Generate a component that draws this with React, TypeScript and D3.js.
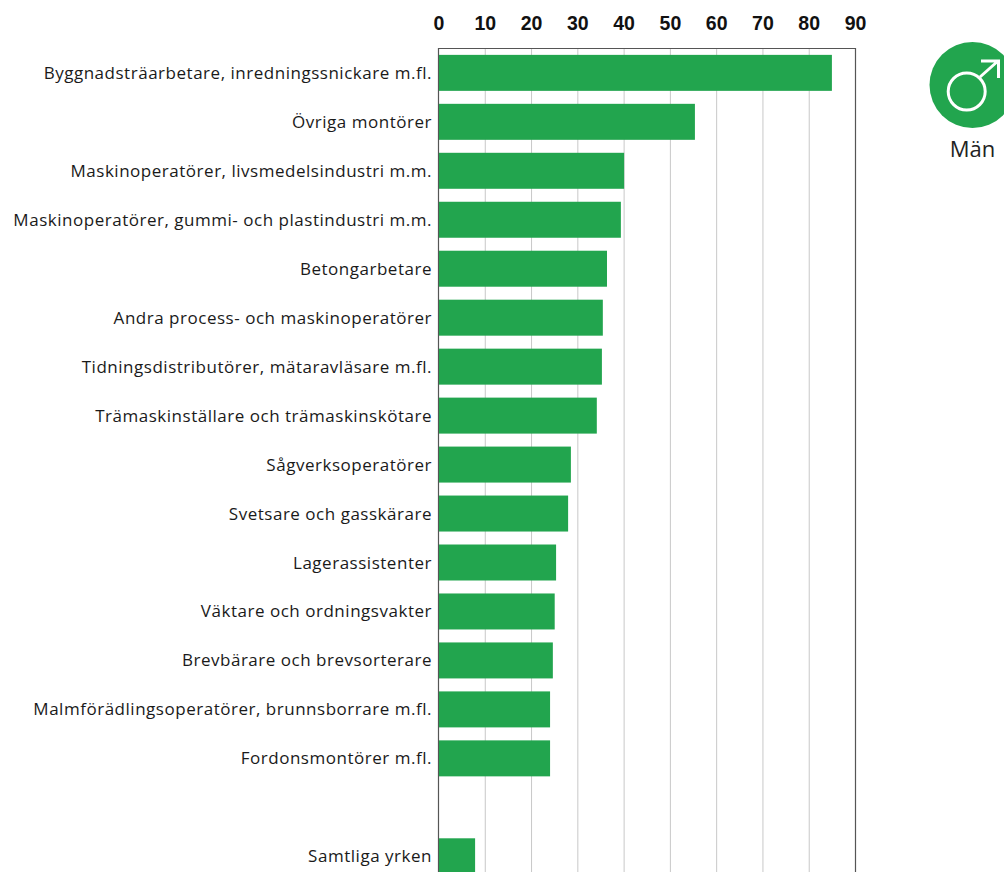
import React from "react";
import * as d3 from "d3";

const categories = [
  "Byggnadsträarbetare, inredningssnickare m.fl.",
  "Övriga montörer",
  "Maskinoperatörer, livsmedelsindustri m.m.",
  "Maskinoperatörer, gummi- och plastindustri m.m.",
  "Betongarbetare",
  "Andra process- och maskinoperatörer",
  "Tidningsdistributörer, mätaravläsare m.fl.",
  "Trämaskinställare och trämaskinskötare",
  "Sågverksoperatörer",
  "Svetsare och gasskärare",
  "Lagerassistenter",
  "Väktare och ordningsvakter",
  "Brevbärare och brevsorterare",
  "Malmförädlingsoperatörer, brunnsborrare m.fl.",
  "Fordonsmontörer m.fl.",
  "",
  "Samtliga yrken",
];
const values = [84.9, 55.3, 40, 39.3, 36.3, 35.4, 35.2, 34.1, 28.5, 27.9, 25.3, 25, 24.6, 24, 24, null, 7.8];
const ticks = [0, 10, 20, 30, 40, 50, 60, 70, 80, 90];
const GREEN = "#22a54e";
const FONT = "'Open Sans', sans-serif";

export default function App() {
  const x = d3.scaleLinear().domain([0, 90]).range([439, 855.5]);
  const y = d3.scaleBand<number>().domain(d3.range(categories.length)).range([48.5, 48.5 + 48.95 * 17]).paddingInner(0.265).paddingOuter(0.13);
  return (
    <svg width={1004} height={872} style={{ position: "absolute", left: 0, top: 0, display: "block", background: "#fff" }}>
      {ticks.slice(1, -1).map((t) => (
        <line key={t} x1={x(t)} x2={x(t)} y1={49} y2={872} stroke="#c8c8c8" strokeWidth={1} />
      ))}
      <path d={`M${x(0) - 0.5},880V48.5H${x(90)}V880`} fill="none" stroke="#555" strokeWidth={1.2} />
      {values.map((v, i) =>
        v == null ? null : (
          <rect key={i} x={x(0)} y={y(i)!} width={x(v) - x(0)} height={y.bandwidth()} fill={GREEN} />
        )
      )}
      {categories.map((c, i) => (
        <text key={i} x={432} y={y(i)! + y.bandwidth() / 2 + 6} textAnchor="end" fontFamily={FONT} fontSize={17} letterSpacing={0.52} fill="#1a1a1a">
          {c}
        </text>
      ))}
      {ticks.map((t) => (
        <text key={t} x={x(t)} y={30} textAnchor="middle" fontFamily="'Liberation Sans', sans-serif" fontWeight={700} fontSize={19.5} fill="#111">
          {t}
        </text>
      ))}
      <circle cx={972.5} cy={85} r={43} fill={GREEN} />
      <circle cx={966.7} cy={91.5} r={18.5} fill="none" stroke="#fff" strokeWidth={3} />
      <path d="M980,77L998,61M981,61H998.5V78" fill="none" stroke="#fff" strokeWidth={3} />
      <text x={972.5} y={157} textAnchor="middle" fontFamily={FONT} fontSize={22} fill="#222">Män</text>
    </svg>
  );
}
